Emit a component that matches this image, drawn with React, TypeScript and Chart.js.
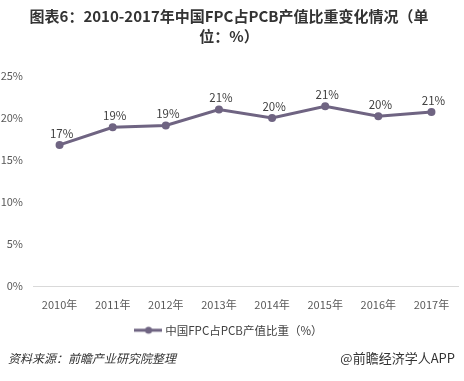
import React, { useEffect, useRef } from "react";
import { Chart, registerables } from "chart.js";

Chart.register(...registerables);

const categories = ["2010年", "2011年", "2012年", "2013年", "2014年", "2015年", "2016年", "2017年"];
const shareValues = [16.8, 18.9, 19.1, 21.0, 20.0, 21.4, 20.2, 20.7];
const pointLabels = ["17%", "19%", "19%", "21%", "20%", "21%", "20%", "21%"];
const yTicks = [0, 5, 10, 15, 20, 25];
const seriesName = "中国FPC占PCB产值比重（%）";
const titleLines = ["图表6：2010-2017年中国FPC占PCB产值比重变化情况（单", "位：%）"];
const sourceText = "资料来源：前瞻产业研究院整理";
const brandText = "@前瞻经济学人APP";

const LINE_COLOR = "#6f6482";
const FONT = "'Noto Sans CJK SC', 'Noto Sans', sans-serif";

function makeLegendIcon() {
  const c = document.createElement("canvas");
  c.width = 28;
  c.height = 10;
  const ctx = c.getContext("2d")!;
  ctx.strokeStyle = LINE_COLOR;
  ctx.lineWidth = 3;
  ctx.beginPath();
  ctx.moveTo(0, 5);
  ctx.lineTo(28, 5);
  ctx.stroke();
  ctx.fillStyle = LINE_COLOR;
  ctx.beginPath();
  ctx.arc(15, 5, 3.5, 0, Math.PI * 2);
  ctx.fill();
  return c;
}

const dataLabelPlugin = {
  id: "dataLabels",
  afterDatasetsDraw(chart: any) {
    const meta = chart.getDatasetMeta(0);
    const ctx = chart.ctx;
    ctx.save();
    ctx.font = `11.5px ${FONT}`;
    ctx.fillStyle = "#404040";
    ctx.textAlign = "center";
    ctx.textBaseline = "bottom";
    meta.data.forEach((pt: any, i: number) => {
      ctx.fillText(pointLabels[i], pt.x + 2, pt.y - 6);
    });
    ctx.restore();
  },
};

const footerPlugin = {
  id: "footerTexts",
  afterDraw(chart: any) {
    const ctx = chart.ctx;
    const h = chart.height;
    ctx.save();
    ctx.fillStyle = "#333333";
    ctx.textBaseline = "middle";
    ctx.font = `italic 12px ${FONT}`;
    ctx.textAlign = "left";
    ctx.fillText(sourceText, 8, h - 23);
    ctx.font = `13px ${FONT}`;
    ctx.textAlign = "right";
    ctx.fillText(brandText, 455, h - 23);
    ctx.restore();
  },
};

export default function App() {
  const ref = useRef<HTMLCanvasElement>(null);

  useEffect(() => {
    document.body.style.margin = "0";
    const icon = makeLegendIcon();
    const chart = new Chart(ref.current!, {
      type: "line",
      data: {
        labels: categories,
        datasets: [
          {
            label: seriesName,
            data: shareValues,
            borderColor: LINE_COLOR,
            backgroundColor: LINE_COLOR,
            borderWidth: 3,
            pointRadius: 4,
            pointBackgroundColor: LINE_COLOR,
            pointBorderWidth: 0,
            tension: 0,
          },
        ],
      },
      options: {
        animation: false,
        responsive: false,
        layout: { padding: { left: 0, right: 6, top: 0, bottom: 35 } },
        plugins: {
          title: {
            display: true,
            text: titleLines,
            color: "#333333",
            font: { family: FONT, size: 15, weight: "bold", lineHeight: 1.33 },
            padding: { top: 6, bottom: 30 },
          },
          legend: {
            position: "bottom",
            labels: {
              color: "#404040",
              font: { family: FONT, size: 11.5 },
              usePointStyle: true,
              pointStyleWidth: 24,
              generateLabels: () => [
                {
                  text: seriesName,
                  pointStyle: icon,
                  fillStyle: LINE_COLOR,
                  strokeStyle: LINE_COLOR,
                  lineWidth: 0,
                  hidden: false,
                  datasetIndex: 0,
                  fontColor: "#404040",
                },
              ],
              padding: 9,
            },
          },
          tooltip: { enabled: false },
        },
        scales: {
          x: {
            offset: true,
            grid: { display: false, offset: true },
            border: { display: true, color: "#d9d9d9", width: 1 },
            ticks: { color: "#595959", font: { family: FONT, size: 11 }, padding: 4 },
          },
          y: {
            min: 0,
            max: 25,
            afterBuildTicks: (axis: any) => {
              axis.ticks = yTicks.map((v) => ({ value: v }));
            },
            afterFit: (axis: any) => {
              axis.width = 33;
            },
            grid: { display: false, drawTicks: false },
            border: { display: false },
            ticks: {
              color: "#595959",
              font: { family: FONT, size: 11 },
              padding: 10,
              callback: (v: any) => `${v}%`,
            },
          },
        },
      },
      plugins: [dataLabelPlugin, footerPlugin],
    });
    return () => chart.destroy();
  }, []);

  return <canvas ref={ref} width={464} height={381} style={{ display: "block", width: 464, height: 381 }} />;
}
